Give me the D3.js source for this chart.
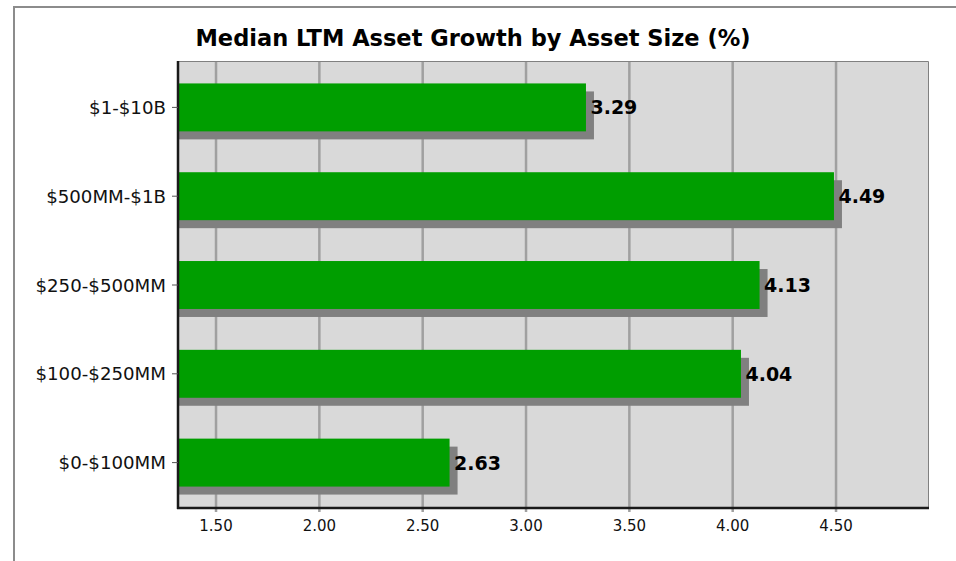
<!DOCTYPE html>
<html><head><meta charset="utf-8">
<script src="https://cdn.jsdelivr.net/npm/d3@7"></script>
<style>
html,body{margin:0;padding:0;background:#fff;}
svg{display:block;}
text{font-family:"DejaVu Sans",sans-serif;}
</style></head>
<body>
<svg id="chart" width="956" height="561"></svg>
<script>
const title = "Median LTM Asset Growth by Asset Size (%)";
const categories = ["$1-$10B","$500MM-$1B","$250-$500MM","$100-$250MM","$0-$100MM"];
const values = [3.29,4.49,4.13,4.04,2.63];
const xTicks = [1.5,2.0,2.5,3.0,3.5,4.0,4.5];
const xDomain = [1.316,4.945];

const svg = d3.select("#chart");
const plot = {left:178, right:928, top:61, bottom:508};

// outer frame
svg.append("path").attr("d","M14,561 V7 H956").attr("fill","none").attr("stroke","#8c8c8c").attr("stroke-width",2);

const x = d3.scaleLinear().domain(xDomain).range([plot.left, plot.right]);
const y = d3.scaleBand().domain(categories).range([63,507]).paddingInner(0.46).paddingOuter(0.23);

// panel
svg.append("rect").attr("x",plot.left).attr("y",plot.top).attr("width",plot.right-plot.left).attr("height",plot.bottom-plot.top).attr("fill","#d9d9d9");

// grid
svg.append("g").selectAll("line").data(xTicks).join("line")
  .attr("x1",d=>x(d)).attr("x2",d=>x(d)).attr("y1",plot.top).attr("y2",plot.bottom+4)
  .attr("stroke","#a0a0a0").attr("stroke-width",2.5);

// panel top/right border
svg.append("path").attr("d",`M${plot.left},${plot.top+0.5} H${plot.right+0.5} V${plot.bottom}`).attr("fill","none").attr("stroke","#808080").attr("stroke-width",1);

const data = categories.map((c,i)=>({c, v:values[i]}));
// shadows
svg.append("g").selectAll("rect").data(data).join("rect")
  .attr("x",plot.left+1).attr("y",d=>y(d.c)+8)
  .attr("width",d=>x(d.v)-plot.left-1+8).attr("height",y.bandwidth())
  .attr("fill","#808080");
// bars
svg.append("g").selectAll("rect").data(data).join("rect")
  .attr("x",plot.left+1).attr("y",d=>y(d.c))
  .attr("width",d=>x(d.v)-plot.left-1).attr("height",y.bandwidth())
  .attr("fill","#009e00");
// value labels
svg.append("g").selectAll("text").data(data).join("text")
  .attr("x",d=>x(d.v)+4.5).attr("y",d=>y(d.c)+y.bandwidth()/2)
  .attr("dominant-baseline","central")
  .attr("font-size",19).attr("font-weight","bold").attr("fill","#000")
  .text(d=>d.v.toFixed(2));

// y axis
const yAxis = svg.append("g");
yAxis.append("line").attr("x1",plot.left).attr("x2",plot.left).attr("y1",plot.top).attr("y2",plot.bottom+1)
  .attr("stroke","#1a1a1a").attr("stroke-width",2.5);
yAxis.selectAll("line.tick").data(categories).join("line").attr("class","tick")
  .attr("x1",plot.left-6).attr("x2",plot.left).attr("y1",d=>y(d)+y.bandwidth()/2).attr("y2",d=>y(d)+y.bandwidth()/2)
  .attr("stroke","#555").attr("stroke-width",1);
yAxis.selectAll("text").data(categories).join("text")
  .attr("x",plot.left-12).attr("y",d=>y(d)+y.bandwidth()/2)
  .attr("text-anchor","end").attr("dominant-baseline","central")
  .attr("font-size",18.2).attr("fill","#111").text(d=>d);

// x axis
const xAxis = svg.append("g");
xAxis.append("line").attr("x1",plot.left-1).attr("x2",plot.right+1).attr("y1",plot.bottom).attr("y2",plot.bottom)
  .attr("stroke","#1a1a1a").attr("stroke-width",2.5);
xAxis.selectAll("text").data(xTicks).join("text")
  .attr("x",d=>x(d)).attr("y",526)
  .attr("text-anchor","middle").attr("dominant-baseline","central")
  .attr("font-size",15).attr("fill","#111").text(d=>d3.format(".2f")(d));

// title
svg.append("text").attr("x",473).attr("y",46).attr("text-anchor","middle")
  .attr("font-size",22.5).attr("font-weight","bold").attr("fill","#000").text(title);
</script>
</body></html>
